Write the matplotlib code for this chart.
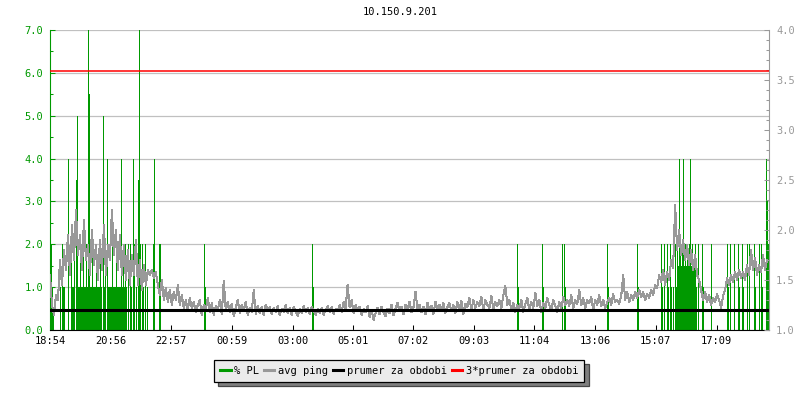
import numpy as np
import matplotlib
matplotlib.use("Agg")
import matplotlib.pyplot as plt
from matplotlib.lines import Line2D
from matplotlib.ticker import MultipleLocator

plt.rcParams['font.family'] = ['DejaVu Sans Mono']
plt.rcParams['font.size'] = 7.5

title = "10.150.9.201"

# avg ping (right axis), one sample every 4 minutes starting 18:54
ping = [
    1.55, 1.25, 1.15, 1.35, 1.30, 1.70, 1.45, 1.80, 1.60, 1.95,
    1.55, 2.05, 1.70, 2.20, 1.75, 1.95, 1.60, 2.10, 1.70, 1.85,
    1.55, 2.00, 1.65, 1.85, 1.50, 1.90, 1.60, 2.05, 1.55, 1.85,
    1.70, 2.20, 1.75, 2.00, 1.60, 1.95, 1.55, 1.85, 1.50, 1.80,
    1.45, 1.75, 1.55, 1.90, 1.45, 1.70, 1.40, 1.65, 1.45, 1.60,
    1.55, 1.60, 1.52, 1.58, 1.45, 1.35, 1.50, 1.30, 1.42, 1.28,
    1.40, 1.25, 1.38, 1.30, 1.45, 1.25, 1.35, 1.22, 1.30, 1.20,
    1.32, 1.22, 1.28, 1.18, 1.25, 1.30, 1.15, 1.25, 1.20, 1.32,
    1.18, 1.27, 1.15, 1.24, 1.20, 1.30, 1.16, 1.49, 1.20, 1.28,
    1.18, 1.26, 1.14, 1.22, 1.30, 1.17, 1.25, 1.20, 1.28, 1.15,
    1.22, 1.18, 1.40, 1.16, 1.24, 1.17, 1.23, 1.15, 1.25, 1.20,
    1.23, 1.16, 1.22, 1.18, 1.24, 1.15, 1.21, 1.18, 1.25, 1.17,
    1.22, 1.15, 1.23, 1.19, 1.14, 1.21, 1.17, 1.24, 1.18, 1.22,
    1.16, 1.23, 1.19, 1.15, 1.21, 1.17, 1.22, 1.15, 1.20, 1.24,
    1.18, 1.23, 1.16, 1.21, 1.19, 1.25, 1.18, 1.28, 1.21, 1.45,
    1.23, 1.30, 1.17, 1.25, 1.19, 1.23, 1.15, 1.21, 1.18, 1.24,
    1.13, 1.20, 1.10, 1.17, 1.22, 1.16, 1.23, 1.18, 1.14, 1.21,
    1.17, 1.25, 1.15, 1.21, 1.27, 1.19, 1.23, 1.16, 1.25, 1.20,
    1.28, 1.18, 1.23, 1.38, 1.21, 1.25, 1.18, 1.23, 1.16, 1.27,
    1.20, 1.24, 1.16, 1.28, 1.21, 1.25, 1.19, 1.27, 1.17, 1.23,
    1.27, 1.19, 1.25, 1.17, 1.28, 1.21, 1.29, 1.16, 1.26, 1.23,
    1.32, 1.20, 1.30, 1.22, 1.28, 1.24, 1.33, 1.20, 1.30, 1.25,
    1.22, 1.34, 1.20, 1.28, 1.24, 1.30, 1.22, 1.35, 1.44, 1.25,
    1.30, 1.20, 1.27, 1.18, 1.25, 1.22, 1.30, 1.18, 1.26, 1.32,
    1.20, 1.28, 1.22, 1.37, 1.24, 1.30, 1.18, 1.27, 1.22, 1.32,
    1.25, 1.20, 1.30, 1.24, 1.18, 1.28, 1.22, 1.33, 1.25, 1.30,
    1.24, 1.35, 1.22, 1.30, 1.26, 1.40, 1.25, 1.32, 1.22, 1.30,
    1.27, 1.33, 1.20, 1.30, 1.25, 1.35, 1.24, 1.30, 1.22, 1.28,
    1.32, 1.25, 1.36, 1.28, 1.30, 1.26, 1.34, 1.55, 1.30, 1.38,
    1.28, 1.35, 1.30, 1.38, 1.32, 1.40, 1.33, 1.38, 1.30, 1.36,
    1.32, 1.40, 1.35, 1.45, 1.42, 1.55, 1.48, 1.60, 1.45, 1.58,
    1.50, 1.70, 1.62, 2.25, 1.80, 2.00, 1.75, 1.90, 1.70, 1.85,
    1.65, 1.80, 1.60, 1.75, 1.55, 1.50, 1.40, 1.30, 1.38, 1.28,
    1.35, 1.25, 1.32, 1.28, 1.36, 1.30, 1.22, 1.34, 1.40, 1.52,
    1.45, 1.55, 1.48, 1.58, 1.50, 1.60, 1.52, 1.58, 1.50, 1.65,
    1.55, 1.80, 1.60, 1.72, 1.55, 1.65, 1.58, 1.75, 1.60, 1.70,
]
ping_step = 4  # minutes

# packet loss (left axis): minute since start, % PL
pl_min = [
    2, 4, 6, 20, 24, 26, 28, 36, 42, 44, 46, 48, 52, 54, 56, 58, 60, 62, 64,
    66, 68, 70, 72, 74, 76, 78, 80, 82, 84, 86, 88, 90, 92, 94, 96, 98, 100,
    102, 106, 108, 110, 114, 116, 118, 120, 122, 124, 126, 128, 130, 132, 134, 136,
    138, 140, 142, 144, 146, 148, 150, 152, 156, 160, 162, 166, 168, 172, 176,
    178, 180, 184, 186, 190, 194, 206, 208, 218, 220,
    308, 310, 524, 526, 936, 938, 986, 988, 1026, 1030, 1032, 1116, 1118, 1176, 1178,
    1224, 1226, 1230, 1236, 1238, 1242, 1244, 1248, 1252, 1254, 1256, 1258,
    1260, 1262, 1264, 1266, 1268, 1270, 1272, 1274, 1276, 1278, 1280, 1282, 1284,
    1286, 1288, 1290, 1292, 1294, 1298, 1306, 1308, 1324, 1356, 1358, 1362, 1370,
    1378, 1380, 1386, 1388, 1396, 1400, 1410, 1412, 1420, 1424, 1426, 1434, 1436, 1438,
]
pl_val = [
    2.0, 1.0, 0.5, 1.0, 2.0, 1.0, 1.0, 4.0, 2.0, 1.0, 1.0, 2.0, 3.5, 5.0, 1.0, 1.0, 2.0, 1.0, 1.0,
    2.0, 1.0, 1.0, 2.0, 1.0, 7.0, 5.5, 1.0, 1.0, 2.0, 1.0, 1.0, 1.0, 2.0, 1.0, 1.0, 1.0, 2.0,
    1.0, 5.0, 1.0, 2.0, 4.0, 1.0, 1.0, 1.0, 1.0, 2.0, 1.0, 1.0, 1.0, 2.0, 1.0, 1.0,
    1.0, 1.0, 4.0, 1.0, 2.0, 1.0, 2.0, 1.0, 2.0, 2.0, 1.0, 4.0, 2.0, 1.0, 3.5,
    7.0, 2.0, 2.0, 1.0, 2.0, 1.0, 2.0, 4.0, 2.0, 2.0,
    2.0, 1.0, 2.0, 1.0, 2.0, 1.0, 2.0, 1.0, 2.0, 2.0, 1.0, 2.0, 1.0, 2.0, 1.0,
    2.0, 1.0, 2.0, 2.0, 1.0, 2.0, 1.0, 1.0, 2.0, 1.0, 2.0, 1.5,
    4.0, 2.0, 1.5, 2.0, 4.0, 1.5, 2.0, 1.5, 2.0, 1.5, 2.0, 4.0, 1.5,
    2.0, 1.5, 1.5, 2.0, 1.0, 2.0, 2.0, 1.0, 2.0, 2.0, 1.0, 2.0, 2.0,
    2.0, 1.0, 2.0, 1.0, 2.0, 2.0, 2.0, 1.0, 2.0, 2.0, 1.0, 4.0, 3.0, 2.0,
]

prumer = 1.198
tick_min = [0, 122, 243, 365, 486, 607, 728, 849, 970, 1092, 1213, 1335]
tick_lab = ["18:54", "20:56", "22:57", "00:59", "03:00", "05:01", "07:02",
            "09:03", "11:04", "13:06", "15:07", "17:09"]

green = '#009900'
grey = '#999999'

fig = plt.figure(figsize=(8, 4), dpi=100)
ax = fig.add_axes([0.0625, 0.175, 0.89875, 0.75])
ax2 = ax.twinx()

t = np.arange(len(ping)) * ping_step

ax.vlines(pl_min, 0, pl_val, color=green, lw=0.72, antialiased=False, snap=True, zorder=2)
ax.set_ylim(0, 7)
ax.set_xlim(0, 1440)
ax.yaxis.set_major_locator(MultipleLocator(1))
ax.yaxis.set_minor_locator(MultipleLocator(0.5))
ax.yaxis.set_major_formatter(lambda v, p: f"{v:.1f}")
ax.grid(axis='y', color='#c0c0c0', lw=0.9, zorder=0)
ax.set_axisbelow(True)
ax.set_xticks(tick_min)
ax.set_xticklabels(tick_lab)

ax2.plot(t, ping, color=grey, lw=0.75, antialiased=False, zorder=3)
ax2.axhline(prumer, color='black', lw=2.2, zorder=4)
ax2.axhline(3 * prumer, color='red', lw=1.1, zorder=5)
ax2.set_ylim(1.0, 4.0)
ax2.yaxis.set_major_locator(MultipleLocator(0.5))
ax2.yaxis.set_minor_locator(MultipleLocator(0.1))
ax2.yaxis.set_major_formatter(lambda v, p: f"{v:.1f}")

for a in (ax, ax2):
    a.spines['top'].set_visible(False)
ax.spines['left'].set_color(green)
ax.spines['right'].set_visible(False)
ax2.spines['left'].set_visible(False)
ax2.spines['bottom'].set_visible(False)
ax2.spines['right'].set_color(grey)

ax.tick_params(axis='y', which='major', direction='in', length=3.6, width=0.75,
               colors=green, pad=5, labelsize=7.5)
ax.tick_params(axis='y', which='minor', direction='in', length=2.2, width=0.75, color=green)
ax.tick_params(axis='x', direction='in', length=3.6, width=0.75, pad=4, labelsize=7.5)
ax2.tick_params(axis='y', which='major', direction='in', length=3.6, width=0.75,
                colors=grey, pad=5, labelsize=7.5)
ax2.tick_params(axis='y', which='minor', direction='in', length=2.2, width=0.75, color=grey)

fig.text(0.5, 0.97, title, ha='center', va='center', fontsize=7.5)

handles = [
    Line2D([], [], color=green, lw=2.2),
    Line2D([], [], color=grey, lw=2.2),
    Line2D([], [], color='black', lw=2.2),
    Line2D([], [], color='red', lw=2.2),
]
labels = ["% PL", "avg ping", "prumer za obdobi", "3*prumer za obdobi"]
leg = fig.legend(handles, labels, loc='center', bbox_to_anchor=(0.499, 0.0725),
                 ncol=4, frameon=True, fancybox=False, edgecolor='black',
                 facecolor='#ebebeb', framealpha=1,
                 shadow={'ox': 3, 'oy': -3, 'facecolor': '#7f7f7f', 'alpha': 1},
                 handlelength=1.0, handletextpad=0.35, columnspacing=0.45,
                 borderpad=0.6, fontsize=7.5)
leg.get_frame().set_linewidth(0.9)

fig.savefig("out.png", dpi=100)
